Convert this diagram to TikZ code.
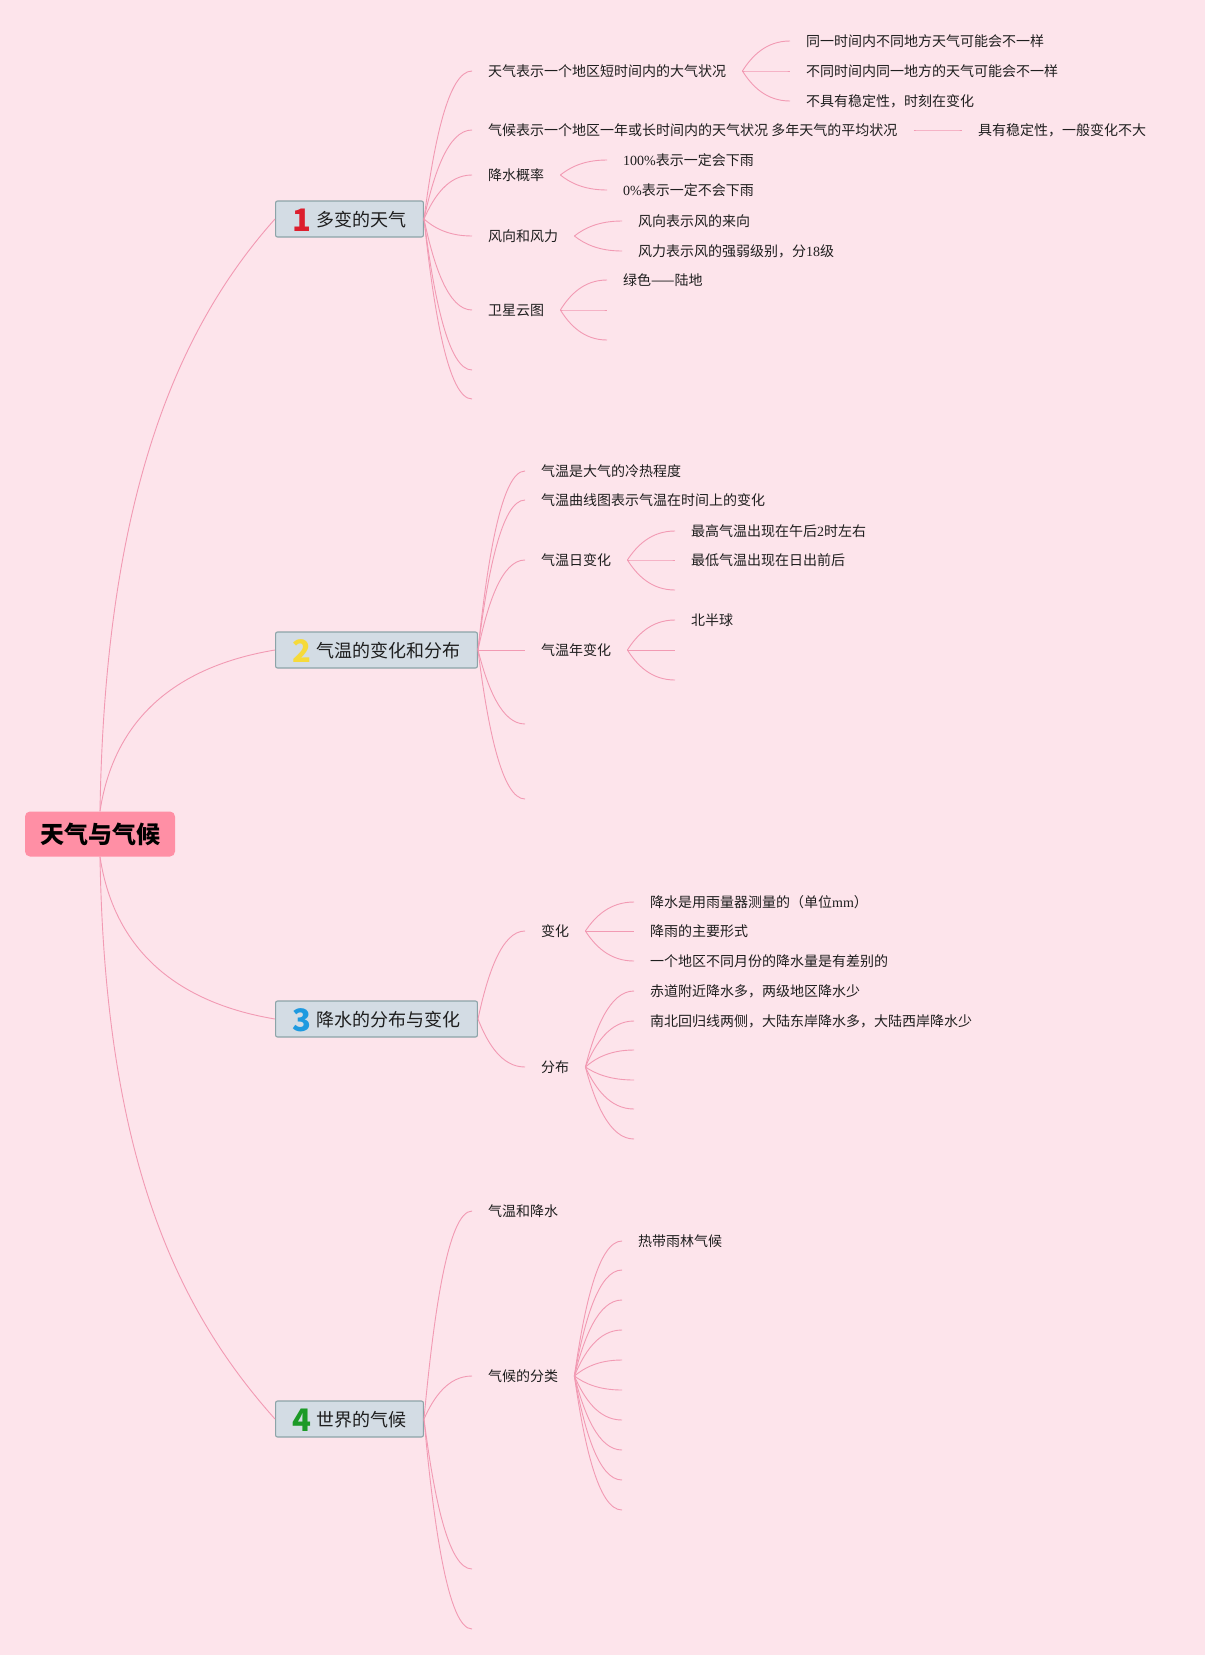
\documentclass[tikz,border=0pt]{standalone}
\usepackage{fontspec}
\setmainfont{Noto Sans CJK SC}
\newfontfamily\latfont{Liberation Serif}
\usepackage{tikz}
\usetikzlibrary{calc}
\definecolor{bgpink}{HTML}{FDE4EB}
\definecolor{linepink}{HTML}{F29AB3}
\definecolor{rootpink}{HTML}{FF8FA5}
\definecolor{boxfill}{HTML}{D3DCE4}
\definecolor{boxline}{HTML}{8CA4A8}
\definecolor{numred}{HTML}{DC1E2D}
\definecolor{numyellow}{HTML}{F6DA3A}
\definecolor{numblue}{HTML}{1E9AE0}
\definecolor{numgreen}{HTML}{1C9A27}
\definecolor{ink}{HTML}{1E1E1E}

\begin{document}
\begin{tikzpicture}[x=1pt,y=-1pt,
  leaf/.style={anchor=west,inner xsep=16pt,inner ysep=2pt,text height=12pt,text depth=2pt,text=ink,font=\fontsize{14}{16}\selectfont},
  topic/.style={anchor=west,draw=boxline,line width=1.1pt,fill=boxfill,rounded corners=2pt,inner xsep=17pt,minimum height=36pt,text height=18pt,text depth=4pt,text=ink,font=\fontsize{18}{20}\selectfont},
  branch/.style={draw=linepink,line width=0.9pt,to path={let \p1=(\tikztostart),\p2=(\tikztotarget) in .. controls ({\x1+0.2*(\x2-\x1)},{0.5*(\y1+\y2)}) and ({0.5*(\x1+\x2)},\y2) .. (\tikztotarget)}},
  rootline/.style={draw=linepink,line width=0.9pt}]
\fill[bgpink] (0,0) rectangle (1205,1655);
\node[fill=rootpink,rounded corners=5pt,minimum width=150pt,minimum height=45pt,text height=20pt,text depth=2pt,inner sep=0pt,font=\fontsize{24}{26}\selectfont\bfseries] (root) at (100,834) {天气与气候};
\foreach \i/\y/\c/\t in {1/219/numred/多变的天气,2/650/numyellow/气温的变化和分布,3/1019/numblue/降水的分布与变化,4/1419/numgreen/世界的气候}
  \node[topic] (t\i) at (275,\y) {\raisebox{-5pt}{\fontsize{31}{31}\selectfont\bfseries\color{\c}\i}\hspace{5pt}\t};
\draw[rootline] (root.north) .. controls +(5,-312) and +(-99,111) .. (t1.west);
\draw[rootline] (root.north) .. controls +(15,-100) and +(-90,15) .. (t2.west);
\draw[rootline] (root.south) .. controls +(15,100) and +(-90,-15) .. (t3.west);
\draw[rootline] (root.south) .. controls +(5,300) and +(-99,-111) .. (t4.west);
% 1 多变的天气
\node[leaf] (c1a) at (472,71) {天气表示一个地区短时间内的大气状况};
\node[leaf] (c1b) at (472,130) {气候表示一个地区一年或长时间内的天气状况 多年天气的平均状况};
\node[leaf] (c1c) at (472,175) {降水概率};
\node[leaf] (c1d) at (472,236) {风向和风力};
\node[leaf] (c1e) at (472,310) {卫星云图};
\coordinate (e1a) at (472,370);
\coordinate (e1b) at (472,399);
\foreach \tg in {c1a.west,c1b.west,c1c.west,c1d.west,c1e.west,e1a,e1b} \draw[branch] (t1.east) to (\tg);
\foreach \k/\y/\t in {a/41/同一时间内不同地方天气可能会不一样,b/71/不同时间内同一地方的天气可能会不一样,c/101/不具有稳定性，时刻在变化}
  {\node[leaf] (g1\k) at (790,\y) {\t}; \draw[branch] (c1a.east) to (g1\k.west);}
\node[leaf] (g1d) at (962,130) {具有稳定性，一般变化不大};
\draw[branch] (c1b.east) to (g1d.west);
\node[leaf] (g1e) at (607,160) {{\latfont 100\%}表示一定会下雨};
\node[leaf] (g1f) at (607,190) {{\latfont 0\%}表示一定不会下雨};
\foreach \tg in {g1e,g1f} \draw[branch] (c1c.east) to (\tg.west);
\node[leaf] (g1g) at (622,221) {风向表示风的来向};
\node[leaf] (g1h) at (622,251) {风力表示风的强弱级别，分{\latfont 18}级};
\foreach \tg in {g1g,g1h} \draw[branch] (c1d.east) to (\tg.west);
\node[leaf] (g1i) at (607,280) {绿色——陆地};
\coordinate (e1c) at (607,310);
\coordinate (e1d) at (607,340);
\foreach \tg in {g1i.west,e1c,e1d} \draw[branch] (c1e.east) to (\tg);
% 2 气温的变化和分布
\foreach \k/\y/\t in {a/471/气温是大气的冷热程度,b/500/气温曲线图表示气温在时间上的变化,c/560/气温日变化,d/650/气温年变化}
  \node[leaf] (c2\k) at (525,\y) {\t};
\coordinate (e2a) at (525,724);
\coordinate (e2b) at (525,799);
\foreach \tg in {c2a.west,c2b.west,c2c.west,c2d.west,e2a,e2b} \draw[branch] (t2.east) to (\tg);
\node[leaf] (g2a) at (675,531) {最高气温出现在午后{\latfont 2}时左右};
\node[leaf] (g2b) at (675,560) {最低气温出现在日出前后};
\coordinate (e2c) at (675,590);
\foreach \tg in {g2a.west,g2b.west,e2c} \draw[branch] (c2c.east) to (\tg);
\node[leaf] (g2c) at (675,620) {北半球};
\coordinate (e2d) at (675,650);
\coordinate (e2e) at (675,680);
\foreach \tg in {g2c.west,e2d,e2e} \draw[branch] (c2d.east) to (\tg);
% 3 降水的分布与变化
\node[leaf] (c3a) at (525,931) {变化};
\node[leaf] (c3b) at (525,1067) {分布};
\foreach \tg in {c3a,c3b} \draw[branch] (t3.east) to (\tg.west);
\node[leaf] (g3a) at (634,902) {降水是用雨量器测量的（单位{\latfont mm}）};
\node[leaf] (g3b) at (634,931) {降雨的主要形式};
\node[leaf] (g3c) at (634,961) {一个地区不同月份的降水量是有差别的};
\foreach \tg in {g3a,g3b,g3c} \draw[branch] (c3a.east) to (\tg.west);
\node[leaf] (g3d) at (634,991) {赤道附近降水多，两级地区降水少};
\node[leaf] (g3e) at (634,1021) {南北回归线两侧，大陆东岸降水多，大陆西岸降水少};
\foreach \y [count=\k] in {1050,1080,1109,1139} \coordinate (e3\k) at (634,\y);
\foreach \tg in {g3d.west,g3e.west,e31,e32,e33,e34} \draw[branch] (c3b.east) to (\tg);
% 4 世界的气候
\node[leaf] (c4a) at (472,1211) {气温和降水};
\node[leaf] (c4b) at (472,1376) {气候的分类};
\coordinate (e4a) at (472,1569);
\coordinate (e4b) at (472,1629);
\foreach \tg in {c4a.west,c4b.west,e4a,e4b} \draw[branch] (t4.east) to (\tg);
\node[leaf] (g4a) at (622,1241) {热带雨林气候};
\draw[branch] (c4b.east) to (g4a.west);
\foreach \y [count=\k] in {1270,1300,...,1510} {\coordinate (k\k) at (622,\y); \draw[branch] (c4b.east) to (k\k);}
\end{tikzpicture}
\end{document}
